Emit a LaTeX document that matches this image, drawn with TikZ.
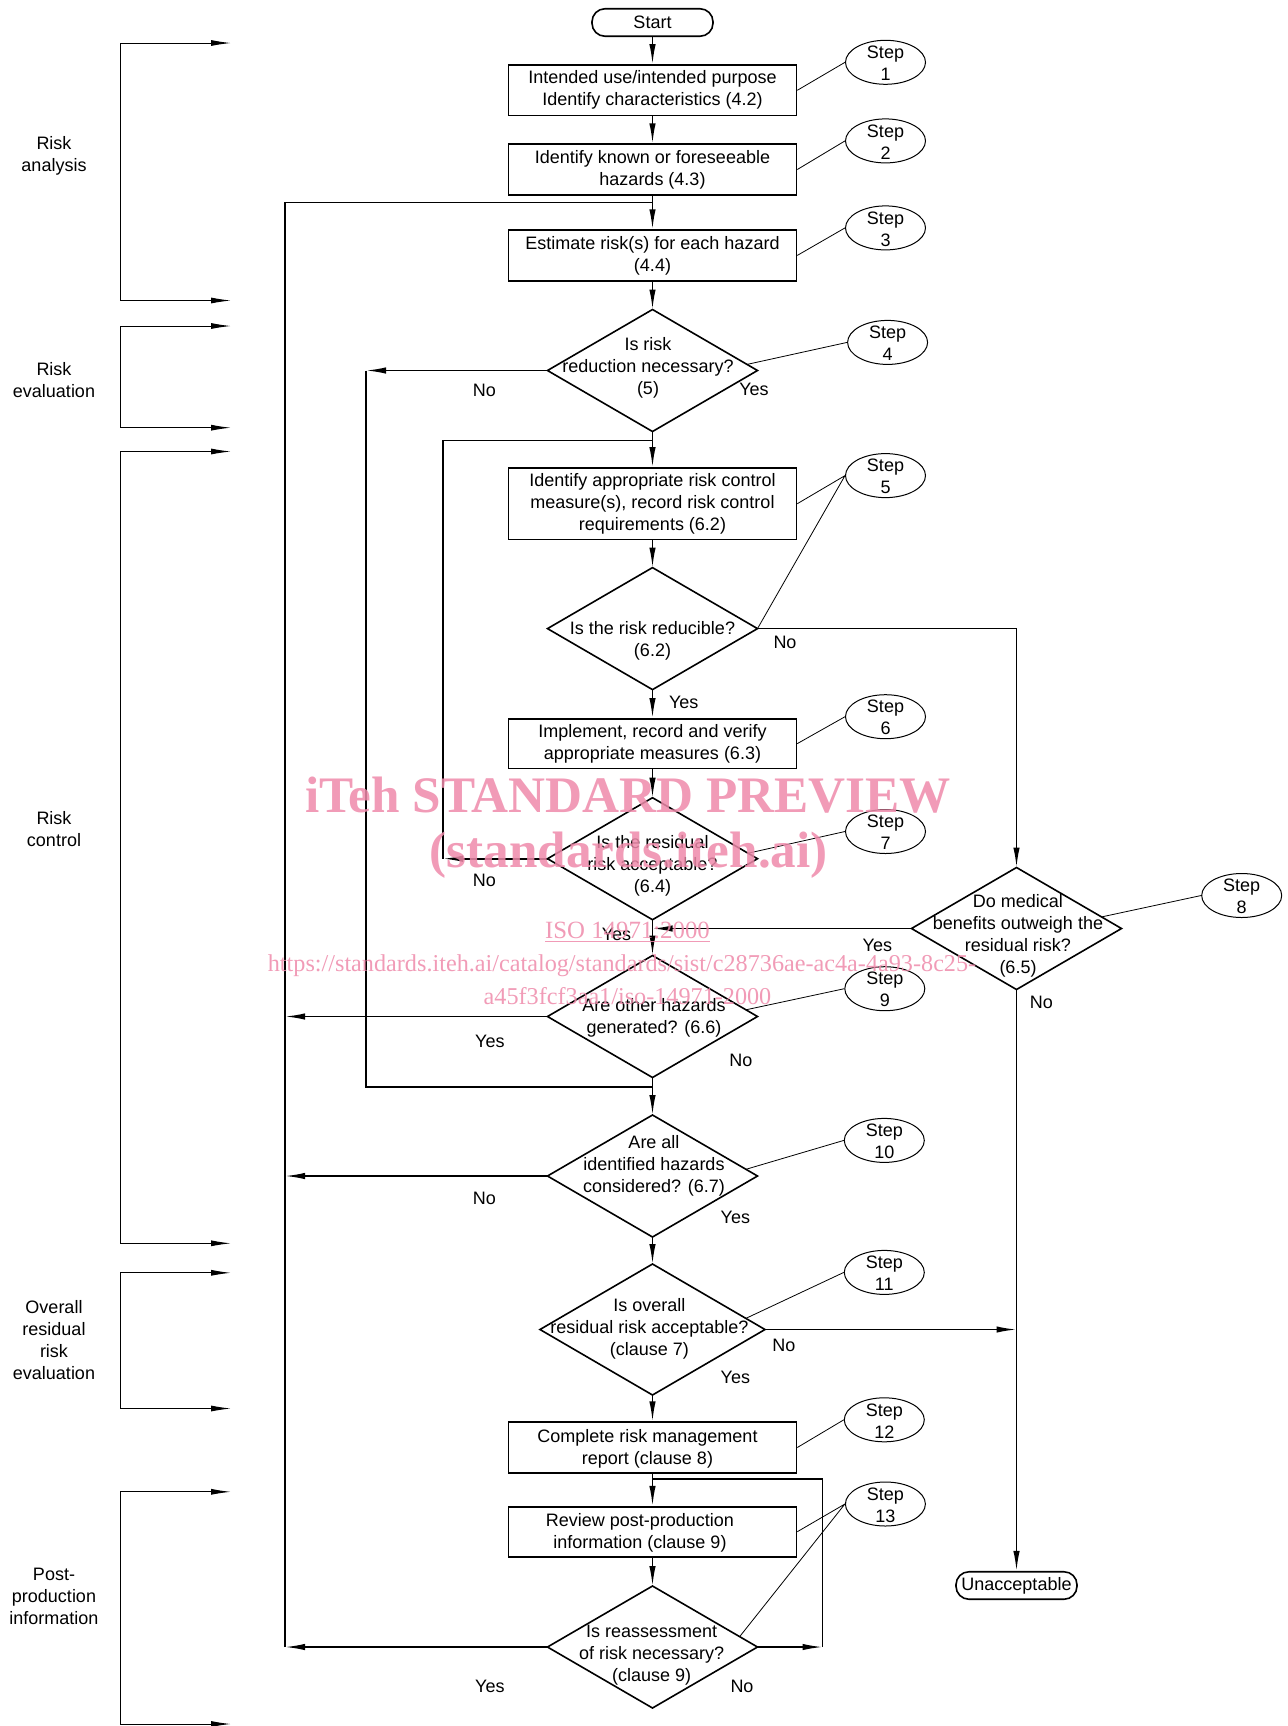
\documentclass[tikz,border=0pt]{standalone}
\usepackage{fontspec}
\setmainfont{Liberation Sans}
\newfontfamily\wmfont{Liberation Serif}
\usetikzlibrary{arrows.meta,shapes.geometric,calc}
\definecolor{wmpink}{RGB}{238,138,170}
\newcommand\dgfont{\fontsize{9}{11}\selectfont}
\begin{document}
\begin{tikzpicture}[x=0.5pt,y=-0.5pt,
  flow/.style={line width=0.8pt},
  arr/.style={line width=0.8pt,-{Latex[length=10pt,width=3.2pt]}},
  brk/.style={line width=0.5pt,-{Latex[length=10pt,width=3pt]}},
  lead/.style={line width=0.4pt},
  box/.style={draw,line width=0.8pt,minimum width=144pt,minimum height=25.3pt,inner sep=0pt,align=center,font=\dgfont},
  term/.style={draw,line width=0.8pt,rounded corners=6.5pt,minimum width=60.5pt,minimum height=13.75pt,inner sep=0pt,font=\dgfont},
  dia/.style={draw,diamond,line width=0.8pt,minimum width=105pt,minimum height=61pt,inner sep=0pt,outer sep=0pt},
  dtext/.style={align=center,font=\dgfont,inner sep=0pt},
  stepell/.style={draw,ellipse,line width=0.5pt,minimum width=40pt,minimum height=22pt,inner sep=0pt},
  steptext/.style={align=center,font=\dgfont,inner sep=0pt},
  yn/.style={font=\dgfont,inner sep=0pt},
  side/.style={align=center,font=\dgfont,inner sep=0pt},
  wm/.style={text=wmpink,text opacity=0.85,inner sep=0pt}
]
\useasboundingbox (0,0) rectangle (1288,1726);

% ---- main nodes
\node[term] (start) at (652.5,22.5) {Start};
\node[box] (b1) at (652.5,90.3) {Intended use/intended purpose\\Identify characteristics (4.2)};
\node[box] (b2) at (652.5,169.5) {Identify known or foreseeable\\hazards (4.3)};
\node[box] (b3) at (652.5,255.4) {Estimate risk(s) for each hazard\\(4.4)};
\node[dia] (d1) at (652.5,370.5) {};
\node[dtext] (d1t) at (648,367.6) {Is risk\\reduction necessary?\\(5)};
\node[box,minimum height=35.75pt] (b4) at (652.5,503.7) {Identify appropriate risk control\\measure(s), record risk control\\requirements (6.2)};
\node[dia] (d2) at (652.5,628.6) {};
\node[dtext] (d2t) at (652.5,640.6) {Is the risk reducible?\\(6.2)};
\node[box,minimum height=24.75pt] (b5) at (652.5,743.6) {Implement, record and verify\\appropriate measures (6.3)};
\node[dia] (d4) at (652.5,858.7) {};
\node[dtext] (d4t) at (652.5,866.3) {Is the residual\\risk acceptable?\\(6.4)};
\node[dia] (dm) at (1016.5,928.5) {};
\node[dtext] (dmt) at (1018,936.2) {Do medical\\benefits outweigh the\\residual risk?\\(6.5)};
\node[dia] (d5) at (652.5,1016.5) {};
\node[dtext] (d5t) at (654,1018.2) {Are other hazards\\generated? (6.6)};
\node[dia] (d6) at (652.5,1176) {};
\node[dtext] (d6t) at (654,1165.4) {Are all\\identified hazards\\considered? (6.7)};
\node[dia,minimum width=112.5pt,minimum height=65.5pt] (d7) at (652.5,1329.5) {};
\node[dtext] (d7t) at (649.5,1328.7) {Is overall\\residual risk acceptable?\\(clause 7)};
\node[box] (b6) at (652.5,1447.5) {};
\node[dtext] (b6t) at (647.5,1448.5) {Complete risk management\\report (clause 8)};
\node[box,minimum height=25pt] (b7) at (652.5,1531.7) {};
\node[dtext] (b7t) at (640,1533) {Review post-production\\information (clause 9)};
\node[dia] (d8) at (652.5,1647) {};
\node[dtext] (d8t) at (651.7,1654.9) {Is reassessment\\of risk necessary?\\(clause 9)};
\node[term] (un) at (1016.5,1585.5) {Unacceptable};

% ---- main column arrows
\foreach \a/\b in {start/b1,b1/b2,b2/b3,b3/d1,d1/b4,b4/d2,d2/b5,b5/d4,d4/d5,d5/d6,d6/d7,d7/b6,b6/b7,b7/d8}
  \draw[arr] (\a.south) -- (\b.north);

% ---- loop coordinates
\coordinate (j1) at (652.5,202.6);
\coordinate (la) at (285,202.6);
\coordinate (lb) at (285,1647);
\coordinate (na) at (366,370.5);
\coordinate (nb) at (366,1087);
\coordinate (j3) at (652.5,1087);
\coordinate (ma) at (443,440.4);
\coordinate (j2) at (652.5,440.4);
\coordinate (ra) at (822.5,1478.7);
\coordinate (j4) at (652.5,1478.7);

% far-left return loop
\draw[flow] (lb) -- (la) -- (j1);
\draw[arr] (d5.west) -- (d5.west -| la);
\draw[arr] (d6.west) -- (d6.west -| la);
\draw[arr] (d8.west) -- (lb);
% risk reduction not necessary
\draw[arr] (d1.west) -- (na);
\draw[flow] (na) -- (nb) -- (j3);
% residual risk not acceptable
\draw[arr] (d4.west) -- (d4.west -| ma);
\draw[flow] (d4.west -| ma) -- (ma) -- (j2);
% risk not reducible
\draw[arr] (d2.east) -| (dm.north);
\draw[arr] (dm.west) -- (dm.west -| d4.south);
\draw[arr] (dm.south) -- (un.north);
\draw[arr] (d7.east) -- (d7.east -| dm.south);
% reassessment not necessary
\draw[arr] (d8.east) -- (d8.east -| ra);
\draw[flow] (d8.east -| ra) -- (ra) -- (j4);

% ---- yes / no labels
\node[yn] (l1n) at (484.4,390.7) {No};
\node[yn] (l1y) at (754,389.6) {Yes};
\node[yn] (l2n) at (785,642.8) {No};
\node[yn] (l2y) at (683.7,702.3) {Yes};
\node[yn] (l4n) at (484.4,880.6) {No};
\node[yn] (l4y) at (616.5,934.6) {Yes};
\node[yn] (lmy) at (877.4,945.6) {Yes};
\node[yn] (lmn) at (1041.4,1002.8) {No};
\node[yn] (l5y) at (489.9,1041.4) {Yes};
\node[yn] (l5n) at (740.9,1060) {No};
\node[yn] (l6n) at (484.4,1198.8) {No};
\node[yn] (l6y) at (735.4,1217.5) {Yes};
\node[yn] (l7n) at (783.8,1345.2) {No};
\node[yn] (l7y) at (735.4,1377.1) {Yes};
\node[yn] (l8y) at (489.9,1686.5) {Yes};
\node[yn] (l8n) at (742,1686.5) {No};

% ---- step ellipses
\foreach \n/\x/\y in {1/885.5/62.3, 2/885.5/140.9, 3/885.5/227.9, 4/887.6/342.4, 5/885.5/475.6, 6/885.5/716.7, 7/885.5/831.5, 8/1241.7/895.5, 9/884.8/988.7, 10/884.3/1140.4, 11/884.3/1272.4, 12/884.3/1419.8, 13/885.4/1504} {
  \node[stepell] (s\n) at (\x,\y) {};
  \node[steptext] (st\n) at ($(s\n.center)+(0,1)$) {Step\\\n};
}
\draw[lead] (b1.east) -- (s1.west);
\draw[lead] (b2.east) -- (s2.west);
\draw[lead] (b3.east) -- (s3.west);
\draw[lead] ($(d1.east)!0.1!(d1.north)$) -- (s4.west);
\draw[lead] (b4.east) -- (s5.west) -- (d2.east);
\draw[lead] (b5.east) -- (s6.west);
\draw[lead] ($(d4.east)!0.09!(d4.north)$) -- (s7.west);
\draw[lead] ($(dm.east)!0.19!(dm.north)$) -- (s8.west);
\draw[lead] ($(d5.east)!0.11!(d5.north)$) -- (s9.west);
\draw[lead] ($(d6.east)!0.11!(d6.north)$) -- (s10.west);
\draw[lead] ($(d7.east)!0.17!(d7.north)$) -- (s11.west);
\draw[lead] (b6.east) -- (s12.west);
\draw[lead] (b7.east) -- (s13.west) -- ($(d8.east)!0.17!(d8.north)$);

% ---- left brackets and phase labels
\foreach \t/\b [count=\i] in {43/300.5, 326/427.7, 451.5/1243.3, 1272.8/1408.5, 1491.8/1724} {
  \coordinate (bt\i) at (231,\t);
  \coordinate (bb\i) at (231,\b);
  \draw[brk] (120,\t) -- (bt\i);
  \draw[brk] (120,\t) |- (bb\i);
}
\node[side] (p1) at (54,156) {Risk\\analysis};
\node[side] (p2) at (54,379.7) {Risk\\evaluation};
\node[side] (p3) at (54,829) {Risk\\control};
\node[side] (p4) at (54,1340) {Overall\\residual\\risk\\evaluation};
\node[side] (p5) at (54,1596) {Post-\\production\\information};

% ---- watermark
\node[wm,font=\wmfont\bfseries\fontsize{25.6}{28}\selectfont] (wm1) at (628,795.4) {iTeh STANDARD PREVIEW};
\node[wm,font=\wmfont\bfseries\fontsize{25.6}{28}\selectfont] (wm2) at (628.6,855.4) {(standards.iteh.ai)};
\node[wm,font=\wmfont\fontsize{12.4}{14}\selectfont] (wm3) at (627.5,932.5) {\underline{ISO 14971:2000}};
\node[wm,font=\wmfont\fontsize{12.1}{14}\selectfont] (wm4) at (622,965.5) {https://standards.iteh.ai/catalog/standards/sist/c28736ae-ac4a-4a93-8c25-};
\node[wm,font=\wmfont\fontsize{12.1}{14}\selectfont] (wm5) at (627.5,996.3) {a45f3fcf3aa1/iso-14971-2000};
\end{tikzpicture}
\end{document}
